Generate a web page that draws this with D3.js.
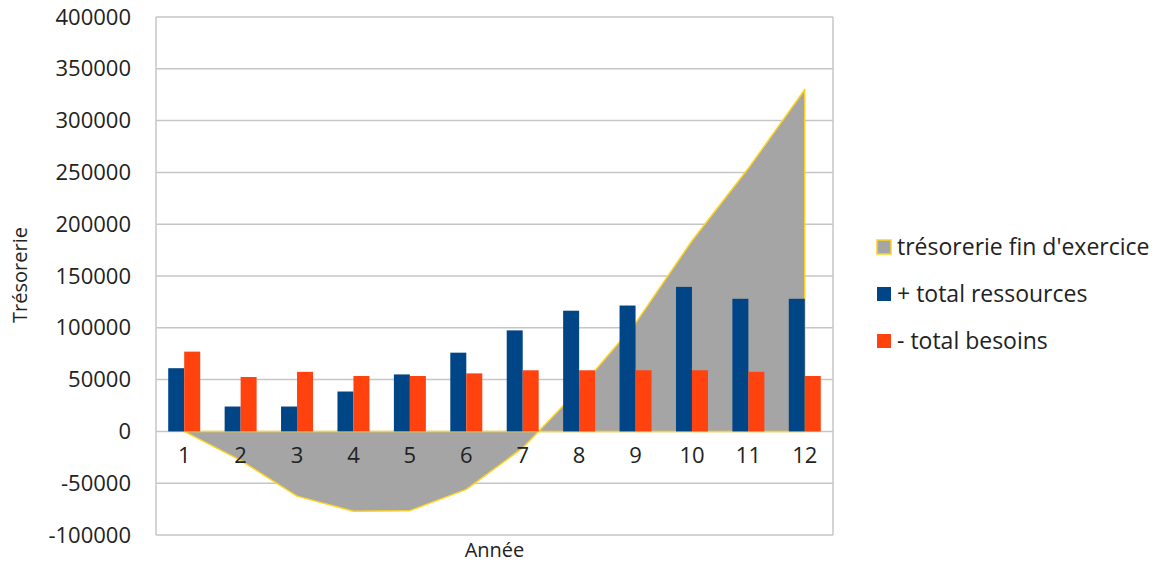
<!DOCTYPE html>
<html>
<head>
<meta charset="utf-8">
<script src="https://cdn.jsdelivr.net/npm/d3@7"></script>
<style>
  body { margin: 0; background: #fff; }
  svg text { font-family: 'Open Sans', sans-serif; fill: #222; }
  .grid line { stroke: #c6c6c6; stroke-width: 1.5; }
  .axis path, .axis line { display: none; }
</style>
</head>
<body>
<div id="chart"></div>
<script>
var years = ['1', '2', '3', '4', '5', '6', '7', '8', '9', '10', '11', '12'];
var ressources = [61000, 24000, 24000, 38500, 55000, 76000, 97500, 116500, 121500, 139500, 128000, 128000];
var besoins = [77000, 52500, 57500, 53500, 53500, 56000, 59000, 59000, 59000, 59000, 57500, 53500];
var tresorerie = [0, -28000, -62500, -77000, -76500, -56000, -16000, 41000, 104500, 184000, 254000, 330000];
var yTicks = [-100000, -50000, 0, 50000, 100000, 150000, 200000, 250000, 300000, 350000, 400000];
var seriesNames = ["trésorerie fin d'exercice", '+ total ressources', '- total besoins'];

var width = 1160;
var height = 564;
var frame = {left: 156, right: 833, top: 17, bottom: 535};

var colors = {
  area: '#a5a5a5',
  areaLine: '#ffd320',
  ressources: '#004586',
  besoins: '#ff420e'
};

var svg = d3.select('#chart').append('svg')
  .attr('width', width)
  .attr('height', height);

var x = d3.scaleBand()
  .domain(years)
  .range([frame.left, frame.right])
  .paddingInner(0.433)
  .paddingOuter(0.2165);

var xSub = d3.scaleBand()
  .domain(['ressources', 'besoins'])
  .range([0, x.bandwidth()]);

var y = d3.scaleLinear()
  .domain([yTicks[0], yTicks[yTicks.length - 1]])
  .range([frame.bottom, frame.top]);

function center(d) {
  return x(d) + x.bandwidth() / 2;
}

// gridlines and frame
svg.append('g')
  .attr('class', 'grid')
  .selectAll('line')
  .data(yTicks)
  .enter()
  .append('line')
  .attr('x1', frame.left)
  .attr('x2', frame.right)
  .attr('y1', function(d) { return y(d); })
  .attr('y2', function(d) { return y(d); });

svg.append('g')
  .attr('class', 'grid')
  .selectAll('line')
  .data([frame.left, frame.right])
  .enter()
  .append('line')
  .attr('x1', function(d) { return d; })
  .attr('x2', function(d) { return d; })
  .attr('y1', frame.top)
  .attr('y2', frame.bottom);

// area for end-of-year cash
var area = d3.area()
  .x(function(d, i) { return center(years[i]); })
  .y0(y(0))
  .y1(function(d) { return y(d); });

svg.append('path')
  .attr('d', area(tresorerie))
  .style('fill', colors.area)
  .style('stroke', colors.areaLine)
  .style('stroke-width', 1.5)
  .style('stroke-linejoin', 'round');

// grouped bars
var groups = svg.append('g')
  .selectAll('g')
  .data(years)
  .enter()
  .append('g')
  .attr('transform', function(d) { return 'translate(' + x(d) + ',0)'; });

groups.append('rect')
  .attr('x', xSub('ressources'))
  .attr('width', xSub.bandwidth())
  .attr('y', function(d, i) { return y(ressources[i]); })
  .attr('height', function(d, i) { return y(0) - y(ressources[i]); })
  .style('fill', colors.ressources);

groups.append('rect')
  .attr('x', xSub('besoins'))
  .attr('width', xSub.bandwidth())
  .attr('y', function(d, i) { return y(besoins[i]); })
  .attr('height', function(d, i) { return y(0) - y(besoins[i]); })
  .style('fill', colors.besoins);

// axes (plain hyphen for negatives, like the original)
var yAxis = d3.axisLeft(y)
  .tickValues(yTicks)
  .tickSize(0)
  .tickPadding(25)
  .tickFormat(function(d) { return String(d); });

svg.append('g')
  .attr('class', 'axis')
  .attr('transform', 'translate(' + frame.left + ',0)')
  .call(yAxis)
  .selectAll('text')
  .style('font-size', '22px');

var xAxis = d3.axisBottom(x)
  .tickSize(0)
  .tickPadding(16);

svg.append('g')
  .attr('class', 'axis')
  .attr('transform', 'translate(0,' + y(0) + ')')
  .call(xAxis)
  .selectAll('text')
  .style('font-size', '22px');

svg.append('text')
  .attr('x', (frame.left + frame.right) / 2)
  .attr('y', 557)
  .attr('text-anchor', 'middle')
  .style('font-size', '20px')
  .text('Année');

svg.append('text')
  .attr('transform', 'translate(27,275) rotate(-90)')
  .attr('text-anchor', 'middle')
  .style('font-size', '20px')
  .text('Trésorerie');

// legend
var legendFill = [colors.area, colors.ressources, colors.besoins];
var legendStroke = [colors.areaLine, 'none', 'none'];

var legend = svg.append('g')
  .selectAll('g')
  .data(seriesNames)
  .enter()
  .append('g')
  .attr('transform', function(d, i) {
    return 'translate(877,' + (247 + i * 47) + ')';
  });

legend.append('rect')
  .attr('x', 0)
  .attr('y', -7)
  .attr('width', 14)
  .attr('height', 14)
  .style('fill', function(d, i) { return legendFill[i]; })
  .style('stroke', function(d, i) { return legendStroke[i]; })
  .style('stroke-width', 1.5);

legend.append('text')
  .attr('x', 20)
  .attr('dy', '0.35em')
  .style('font-size', '23px')
  .text(function(d) { return d; });
</script>
</body>
</html>
